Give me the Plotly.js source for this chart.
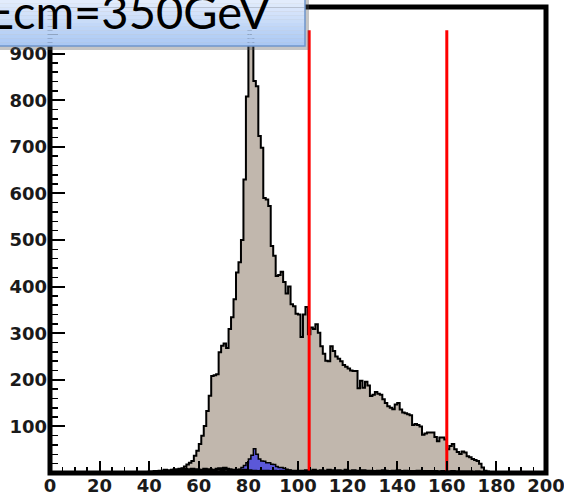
<!DOCTYPE html>
<html>
<head>
<meta charset="utf-8">
<script src="https://cdn.plot.ly/plotly-3.0.1.min.js"></script>
<style>
  html, body { margin: 0; padding: 0; background: #ffffff; }
  #chart { width: 564px; height: 499px; }
</style>
</head>
<body>
<div id="chart"></div>
<script>
// Invariant-mass distributions, 1 GeV bins, counts per bin.
const binWidth = 1;

// total sample (grey-brown filled histogram), first bin = 44 GeV
const totalFirstBin = 44;
const totalCounts = [
  1, 2, 2, 3, 4, 3, 5, 6, 8, 10, 14, 18, 22, 26,                // 44-57
  37, 48, 62, 80, 101, 133, 166, 208, 210, 212, 259, 273,       // 58-69
  278, 268, 309, 334, 373, 430, 452, 500, 630, 808,             // 70-79
  950, 935, 841, 830, 723, 698, 590, 587, 573, 487,             // 80-89
  466, 423, 425, 432, 410, 385, 400, 362, 358, 342,             // 90-99
  340, 292, 340, 356, 298, 312, 309, 319, 301, 272,             // 100-109
  256, 241, 240, 272, 262, 250, 245, 240, 232, 228,             // 110-119
  224, 220, 219, 219, 182, 198, 183, 196, 188, 165,             // 120-129
  168, 174, 170, 168, 158, 150, 143, 140, 137, 147,             // 130-139
  150, 136, 130, 128, 126, 124, 103, 105, 103, 100,             // 140-149
  82, 85, 87, 87, 87, 77, 68, 76, 76, 72,                       // 150-159
  51, 58, 62, 51, 45, 41, 46, 44, 36, 34,                       // 160-169
  30, 28, 26, 20, 12, 5, 3, 2, 1                                // 170-178
];

// signal sample (blue filled histogram), first bin = 76 GeV
const signalFirstBin = 76;
const signalCounts = [
  8, 12, 16, 22, 30, 38, 52, 40, 30, 26,
  25, 22, 22, 19, 18, 14, 12, 12, 10, 8, 6, 4
];

// small remaining sample (black line near zero), first bin = 40 GeV
const otherFirstBin = 40;
const otherCounts = [
  2, 0, 3, 2, 4, 3, 6, 4, 5, 6, 7, 5, 8, 6, 8, 7,               // 40-55
  6, 8, 5, 7, 6, 5, 8, 6, 7, 5, 6, 8, 9, 7,                     // 56-69
  10, 8, 7, 6, 5, 6, 4, 5, 6, 4, 5, 3, 4, 3, 2, 4,              // 70-85
  3, 4, 2, 3, 4, 3, 2, 4, 3, 2, 5, 3, 4, 2,                     // 86-99
  3, 4, 3, 5, 2, 3, 6, 4, 3, 5, 4, 3, 6, 5, 3, 4,               // 100-115
  5, 3, 4, 6, 3, 4, 5, 3, 4, 3, 5, 4, 3, 4, 2,                  // 116-130
  3, 4, 3, 5, 4, 3, 2, 4, 3, 5, 3, 2, 4, 3, 2,                  // 131-145
  3, 2, 4, 3, 2, 3, 2, 3, 2, 3, 2, 2, 3, 2, 2,                  // 146-160
  2, 3, 2, 2, 1, 2, 2, 1, 2, 1, 1, 2, 1, 1, 1, 1, 0, 1, 1, 0     // 161-180
];

// mass-window cut positions (GeV)
const cutValues = [104.5, 160];

// axis ticks
const xTickValues = [0, 20, 40, 60, 80, 100, 120, 140, 160, 180, 200];
const yTickValues = [100, 200, 300, 400, 500, 600, 700, 800, 900];

const titleText = 'Ecm=350GeV';

// build a ROOT-style step outline from per-bin counts
function stepOutline(firstBin, counts) {
  const x = [firstBin];
  const y = [0];
  counts.forEach((c, i) => {
    x.push(firstBin + i * binWidth);
    y.push(c);
  });
  const end = firstBin + counts.length * binWidth;
  x.push(end); y.push(counts[counts.length - 1]);
  x.push(end); y.push(0);
  return { x, y };
}

const totalStep = stepOutline(totalFirstBin, totalCounts);
const signalStep = stepOutline(signalFirstBin, signalCounts);
const otherStep = stepOutline(otherFirstBin, otherCounts);
const cutHeight = Math.max(...totalCounts);

const traces = [
  {
    type: 'scatter', mode: 'lines', x: totalStep.x, y: totalStep.y,
    line: { shape: 'hv', color: '#000000', width: 2 },
    fill: 'tozeroy', fillcolor: '#c1b7ad', hoverinfo: 'skip'
  },
  {
    type: 'scatter', mode: 'lines', x: signalStep.x, y: signalStep.y,
    line: { shape: 'hv', color: '#000000', width: 1.5 },
    fill: 'tozeroy', fillcolor: '#5b58d8', hoverinfo: 'skip'
  },
  {
    type: 'scatter', mode: 'lines', x: otherStep.x, y: otherStep.y,
    line: { shape: 'hv', color: '#000000', width: 3 },
    hoverinfo: 'skip'
  }
];
cutValues.forEach(v => {
  traces.push({
    type: 'scatter', mode: 'lines', x: [v, v], y: [0, cutHeight],
    line: { color: '#ff0000', width: 3 }, hoverinfo: 'skip'
  });
});

// plot-area geometry helpers for the header box (pixels -> paper)
const W = 564, H = 499;
const M = { l: 50, r: 18, t: 7, b: 26 };
const pw = W - M.l - M.r, ph = H - M.t - M.b;
const px = v => (v - M.l) / pw;
const py = v => (H - M.b - v) / ph;

const shapes = [];
// thick black frame
shapes.push({
  type: 'rect', xref: 'paper', yref: 'paper', x0: 0, x1: 1, y0: 0, y1: 1,
  line: { color: '#000000', width: 5 }, fillcolor: 'rgba(0,0,0,0)', layer: 'above'
});
// header box: shadow, gradient bands, border
const boxRight = 305, boxBottom = 46;
shapes.push({
  type: 'rect', xref: 'paper', yref: 'paper',
  x0: px(-20), x1: px(boxRight + 4), y0: py(boxBottom + 4), y1: py(-20),
  line: { width: 0 }, fillcolor: 'rgba(90,90,90,0.35)', layer: 'above'
});
const topCol = [226, 236, 252], botCol = [170, 200, 244];
const nBands = 12;
for (let i = 0; i < nBands; i++) {
  const t = i / (nBands - 1);
  const c = topCol.map((a, k) => Math.round(a + (botCol[k] - a) * t));
  const yTop = i === 0 ? -20 : boxBottom * i / nBands;
  const yBot = boxBottom * (i + 1) / nBands;
  shapes.push({
    type: 'rect', xref: 'paper', yref: 'paper',
    x0: px(-20), x1: px(boxRight), y0: py(yBot), y1: py(yTop),
    line: { width: 0 }, fillcolor: `rgb(${c[0]},${c[1]},${c[2]})`, layer: 'above'
  });
}
shapes.push({
  type: 'rect', xref: 'paper', yref: 'paper',
  x0: px(-20), x1: px(boxRight), y0: py(boxBottom), y1: py(-20),
  line: { color: '#6f95cc', width: 1.5 }, fillcolor: 'rgba(0,0,0,0)', layer: 'above'
});

const tickFont = { family: 'DejaVu Sans, Liberation Sans, sans-serif', size: 18, color: '#1a1a1a', weight: 'bold' };

const layout = {
  width: W, height: H,
  margin: M,
  paper_bgcolor: '#ffffff', plot_bgcolor: '#ffffff',
  showlegend: false,
  xaxis: {
    range: [0, 200], tickvals: xTickValues, ticktext: xTickValues.map(String),
    ticks: 'inside', ticklen: 12, tickwidth: 2, tickcolor: '#000000',
    showgrid: false, zeroline: false, showline: false,
    tickfont: tickFont, ticklabeloverflow: 'allow',
    minor: { dtick: 5, tick0: 0, ticks: 'inside', ticklen: 6, tickwidth: 1.5, tickcolor: '#000000', showgrid: false }
  },
  yaxis: {
    range: [0, 1000], tickvals: yTickValues, ticktext: yTickValues.map(String),
    ticks: 'inside', ticklen: 15, tickwidth: 2, tickcolor: '#000000',
    showgrid: false, zeroline: false, showline: false,
    tickfont: tickFont, ticklabelstandoff: 2,
    minor: { dtick: 20, tick0: 0, ticks: 'inside', ticklen: 8, tickwidth: 1.5, tickcolor: '#000000', showgrid: false }
  },
  shapes: shapes,
  annotations: [{
    xref: 'paper', yref: 'paper', x: px(272), y: py(11),
    xanchor: 'right', yanchor: 'middle', showarrow: false,
    text: titleText,
    font: { family: 'Lato, Open Sans, sans-serif', size: 47, color: '#000000' }
  }]
};

Plotly.newPlot('chart', traces, layout, { staticPlot: true, displayModeBar: false });
</script>
</body>
</html>
